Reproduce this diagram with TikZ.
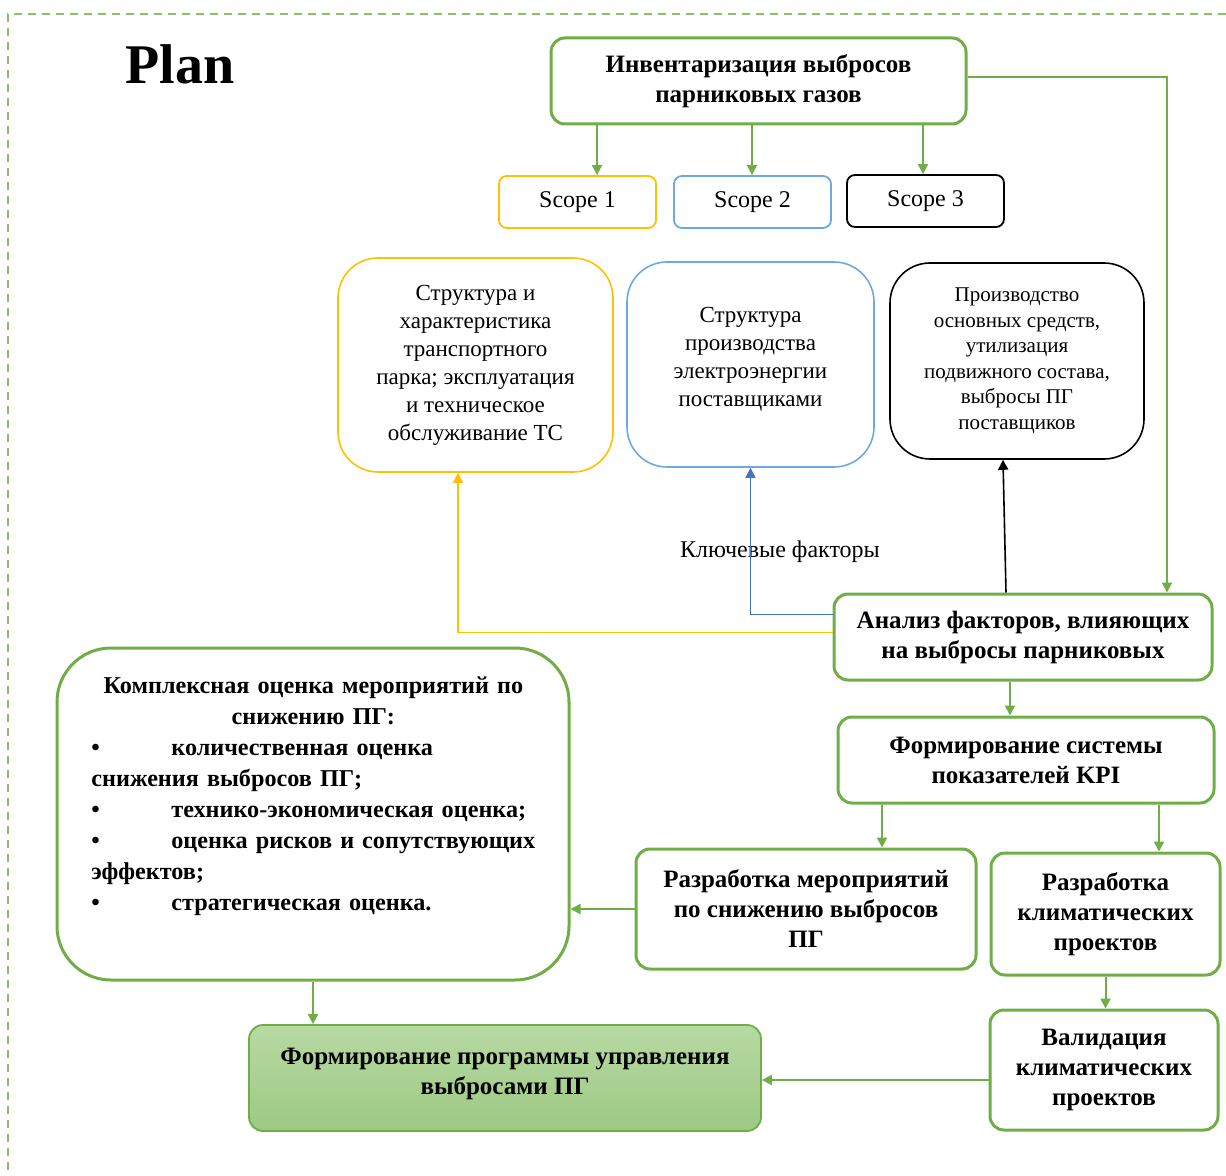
\documentclass[tikz,border=0pt]{standalone}
\usepackage{fontspec}
\setmainfont{Liberation Serif}
\usetikzlibrary{arrows.meta,calc}

\definecolor{grn}{HTML}{70AD47}
\definecolor{frm}{HTML}{8CC068}
\definecolor{ylw}{HTML}{FFC000}
\definecolor{blu}{HTML}{6FA8DC}
\definecolor{bluA}{HTML}{4472C4}
\definecolor{progTop}{HTML}{B7D9A3}
\definecolor{progBot}{HTML}{9DC983}

\begin{document}
\begin{tikzpicture}[x=0.5pt,y=-0.5pt]
% Define styles
\tikzset{
    gbox/.style={draw=grn, line width=1.5pt, rounded corners=7pt, align=center, inner sep=0pt, font=\fontsize{12.5}{15}\selectfont\bfseries},
    scopebox/.style={line width=0.9pt, rounded corners=4pt, minimum width=78.5pt, minimum height=26pt, inner sep=0pt, font=\fontsize{12}{14}\selectfont},
    infobox/.style={line width=0.8pt, rounded corners=20pt, align=center, inner sep=0pt, font=\fontsize{11.5}{14}\selectfont},
    garrow/.style={draw=grn, line width=1pt, -{Triangle[width=5pt,length=5pt]}},
    farrow/.style={line width=0.8pt, -{Triangle[width=5pt,length=5pt]}},
    frame/.style={draw=frm, line width=0.7pt, dash pattern=on 4pt off 3pt}
}
\useasboundingbox (0,0) rectangle (1226,1176);

% Frame
\draw[frame] (1226,14) -- (8,14) -- (8,1176);

% Title
\node[font=\fontsize{28}{30}\selectfont\bfseries] (title) at (180,64) {Plan};

% Inventory and scopes
\node[gbox, minimum width=207.5pt, minimum height=43pt] (inv) at (758.5,81) {Инвентаризация выбросов\\парниковых газов};
\node[scopebox, draw=ylw] (scopeA) at (577.5,202) {Scope 1};
\node[scopebox, draw=blu] (scopeB) at (752.5,202) {Scope 2};
\node[scopebox, draw=black] (scopeC) at (925.5,201) {Scope 3};

% Scope contents
\node[infobox, draw=ylw, minimum width=137.5pt, minimum height=107pt] (strA) at (475.5,365) {Структура и\\характеристика\\транспортного\\парка; эксплуатация\\и техническое\\обслуживание ТС};
\node[infobox, draw=blu, minimum width=123.5pt, minimum height=102.5pt, text depth=8pt] (strB) at (750.5,364.5) {Структура\\производства\\электроэнергии\\поставщиками};
\node[infobox, draw=black, minimum width=127pt, minimum height=98pt, font=\fontsize{10.5}{12.75}\selectfont] (strC) at (1017,361) {Производство\\основных средств,\\утилизация\\подвижного состава,\\выбросы ПГ\\поставщиков};

\node[font=\fontsize{12}{14}\selectfont] (factors) at (780,552) {Ключевые факторы};

% Analysis chain
\node[gbox, minimum width=189pt, minimum height=43pt] (anal) at (1023,637) {Анализ факторов, влияющих\\на выбросы парниковых};
\node[gbox, minimum width=188pt, minimum height=43pt] (kpi) at (1026,760) {Формирование системы\\показателей KPI};
\node[gbox, minimum width=170pt, minimum height=60pt] (razA) at (806,909) {Разработка мероприятий\\по снижению выбросов\\ПГ};
\node[gbox, minimum width=114.5pt, minimum height=61pt] (razB) at (1105.5,914) {Разработка\\климатических\\проектов};
\node[gbox, minimum width=114pt, minimum height=60pt] (valid) at (1104,1070) {Валидация\\климатических\\проектов};

% Assessment
\node[gbox, rounded corners=27pt, minimum width=256pt, minimum height=166pt] (kompl) at (313,814) {};
\node[anchor=north west, text width=236pt, inner sep=0pt, font=\fontsize{12.1}{15.5}\selectfont\bfseries] (komplTxt) at (91,676) {\setlength\parindent{0pt}\makebox[222pt]{Комплексная оценка мероприятий по}\\
\makebox[222pt]{снижению ПГ:}\\
\makebox[40pt][l]{\textbullet}количественная оценка\\
снижения выбросов ПГ;\\
\makebox[40pt][l]{\textbullet}технико-экономическая оценка;\\
\makebox[40pt][l]{\textbullet}оценка рисков и сопутствующих\\
эффектов;\\
\makebox[40pt][l]{\textbullet}стратегическая оценка.};

% Program
\node[gbox, line width=0.9pt, top color=progTop, bottom color=progBot, minimum width=256pt, minimum height=53pt, text depth=7pt] (prog) at (505,1078) {Формирование программы управления\\выбросами ПГ};

% Arrows
\draw[garrow] ([xshift=-80.75pt]inv.south) coordinate (s1) -- (s1 |- scopeA.north);
\draw[garrow] ([xshift=-3.25pt]inv.south) coordinate (s2) -- (s2 |- scopeB.north);
\draw[garrow] ([xshift=82.25pt]inv.south) coordinate (s3) -- (s3 |- scopeC.north);
\draw[garrow] ([yshift=2pt]inv.east) -| ([xshift=72pt]anal.north);

\draw[farrow, draw=black] ([xshift=-8.5pt]anal.north) -- ([xshift=-7pt]strC.south);
\draw[farrow, draw=bluA] ([yshift=-11pt]anal.north west) -| (strB.south);
\draw[farrow, draw=ylw] ([yshift=-20pt]anal.north west) -| ([xshift=-8.75pt]strA.south);

\draw[garrow] ([xshift=-6.5pt]anal.south) coordinate (a1) -- (a1 |- kpi.north);
\draw[garrow] ([xshift=-72pt]kpi.south) coordinate (k1) -- (k1 |- razA.north);
\draw[garrow] ([xshift=66.5pt]kpi.south) coordinate (k2) -- (k2 |- razB.north);
\draw[garrow] (razA.west) -- (razA.west -| kompl.east);
\draw[garrow] (kompl.south) -- (kompl.south |- prog.north);
\draw[garrow] (razB.south) -- (razB.south |- valid.north);
\draw[garrow] ([yshift=-5pt]valid.west) coordinate (v1) -- (v1 -| prog.east);

\end{tikzpicture}
\end{document}
